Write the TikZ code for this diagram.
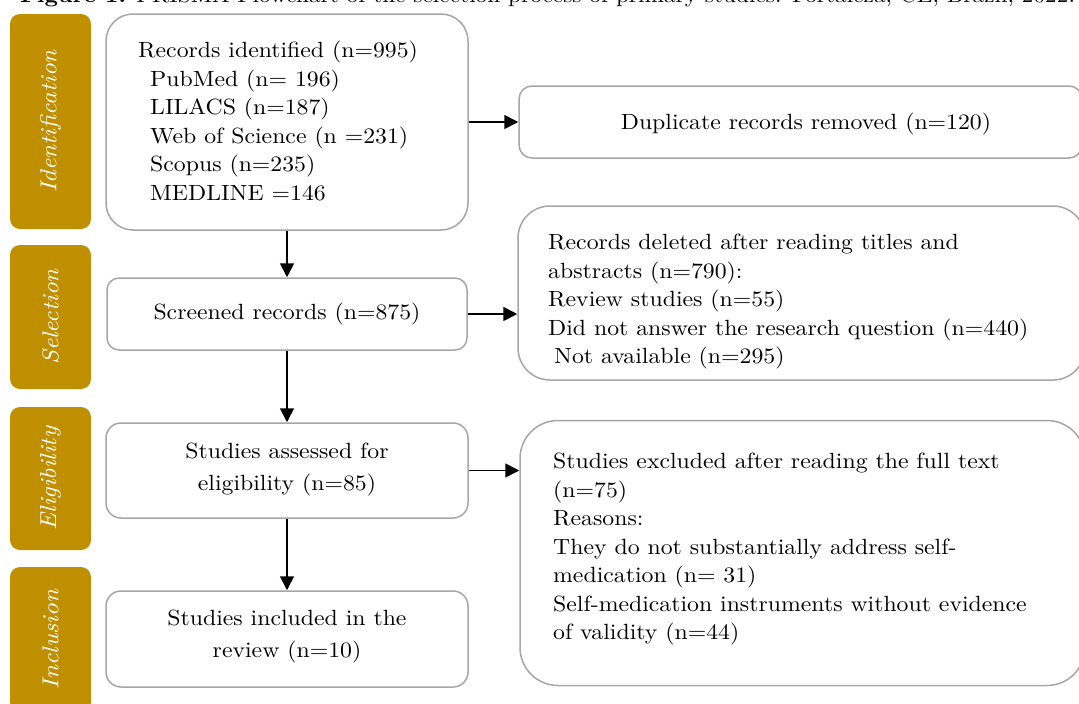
\documentclass[tikz,border=0pt]{standalone}
\usepackage{fontspec}
\setmainfont{lmroman10-regular.otf}[FakeStretch=1.08, ItalicFont=lmroman10-italic.otf, BoldFont=lmroman10-bold.otf, BoldItalicFont=lmroman10-bolditalic.otf]
\usetikzlibrary{arrows.meta}
\definecolor{gold}{RGB}{191,143,0}
\definecolor{boxgray}{RGB}{166,166,166}
\begin{document}
\begin{tikzpicture}[x=1pt,y=-1pt,
  tab/.style={fill=gold, draw=none, rounded corners=10pt, inner sep=0, rotate=90,
    text=white, font=\fontsize{23}{26}\selectfont\itshape},
  box/.style={draw=boxgray, line width=1.5pt, fill=white, inner sep=0},
  txt/.style={font=\fontsize{22}{28.5}\selectfont, inner sep=0, align=left},
  ctxt/.style={font=\fontsize{22}{31.5}\selectfont, inner sep=0, align=center},
  arr/.style={line width=1.7pt, -{Triangle[length=14pt,width=14pt]}}
]
\useasboundingbox (0,0) rectangle (1079,704);

% caption (cut at the top of the picture)
\node[anchor=base west, inner sep=0, font=\fontsize{21.6}{24}\selectfont] (cap) at (20,2)
  {\textbf{Figure 1.} PRISMA Flowchart of the selection process of primary studies. Fortaleza, CE, Brazil, 2022.};

% side tabs
\node[tab, minimum width=215pt, minimum height=81pt] (tid) at (50.5,121.5) {Identification};
\node[tab, minimum width=144pt, minimum height=81pt] (tsel) at (50.5,317) {Selection};
\node[tab, minimum width=143pt, minimum height=81pt] (tel) at (50.5,478.5) {Eligibility};
\node[tab, minimum width=145pt, minimum height=81pt] (tinc) at (50.5,639.5) {Inclusion};

% boxes
\node[box, rounded corners=27pt, minimum width=362pt, minimum height=216pt] (rec) at (287,122) {};
\node[box, rounded corners=13pt, minimum width=563pt, minimum height=72pt] (dup) at (800.5,122) {};
\node[box, rounded corners=12pt, minimum width=360pt, minimum height=72pt] (scr) at (287,314) {};
\node[box, rounded corners=32pt, minimum width=567pt, minimum height=174pt] (del) at (801.5,293) {};
\node[box, rounded corners=15pt, minimum width=362pt, minimum height=95pt] (ass) at (287,470.5) {};
\node[box, rounded corners=38pt, minimum width=565pt, minimum height=265pt] (exc) at (802.5,553) {};
\node[box, rounded corners=15pt, minimum width=362pt, minimum height=96pt] (inc) at (287,639) {};

% texts
\node[txt, anchor=north west] (rect) at (138,41)
  {Records identified (n=995)\\
   \hspace*{12pt}PubMed (n= 196)\\
   \hspace*{12pt}LILACS (n=187)\\
   \hspace*{12pt}Web of Science (n =231)\\
   \hspace*{12pt}Scopus (n=235)\\
   \hspace*{12pt}MEDLINE =146};
\node[ctxt] (dupt) at (806,124) {Duplicate records removed (n=120)};
\node[ctxt] (scrt) at (287,314) {Screened records (n=875)};
\node[txt, anchor=north west] (delt) at (548,234)
  {Records deleted after reading titles and\\
   abstracts (n=790):\\
   Review studies (n=55)\\
   Did not answer the research question (n=440)\\
   \hspace*{6pt}Not available (n=295)};
\node[ctxt] (asst) at (287,469.5) {Studies assessed for\\eligibility (n=85)};
\node[txt, anchor=north west] (exct) at (553,453)
  {Studies excluded after reading the full text\\
   (n=75)\\
   Reasons:\\
   They do not substantially address self-\\
   medication (n= 31)\\
   Self-medication instruments without evidence\\
   of validity (n=44)};
\node[ctxt] (inct) at (287,636.5) {Studies included in the\\review (n=10)};

% connectors
\draw[arr] (rec.east) -- (dup.west);
\draw[arr] (scr.east) -- (scr.east -| del.west);
\draw[arr] (ass.east) -- (ass.east -| exc.west);
\draw[arr] (rec.south) -- (scr.north);
\draw[arr] (scr.south) -- (ass.north);
\draw[arr] (ass.south) -- (inc.north);
\end{tikzpicture}
\end{document}
